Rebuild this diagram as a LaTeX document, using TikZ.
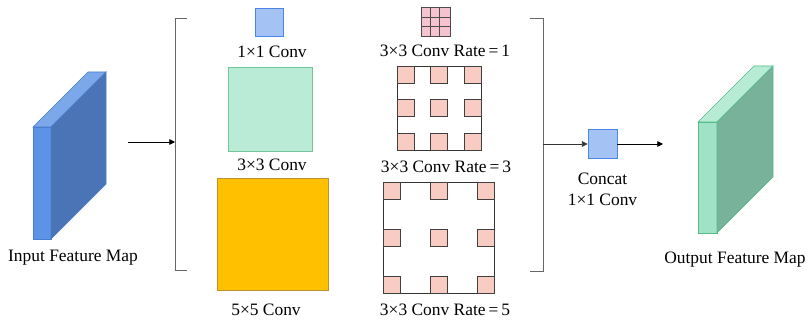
\documentclass[tikz,border=0pt]{standalone}
\usepackage{fontspec}
\setmainfont{Liberation Serif}
\usetikzlibrary{positioning,arrows.meta}
\definecolor{blueFront}{HTML}{5B93E6}
\definecolor{blueSide}{HTML}{4A74B6}
\definecolor{blueTop}{HTML}{7CA8EA}
\definecolor{blueLine}{HTML}{4A7CD0}
\definecolor{greenFront}{HTML}{A0E2C5}
\definecolor{greenSide}{HTML}{78B29A}
\definecolor{greenTop}{HTML}{B8EBD5}
\definecolor{greenLine}{HTML}{52BE88}
\definecolor{oneFill}{HTML}{A4C2F4}
\definecolor{oneLine}{HTML}{4A86E8}
\definecolor{convGreen}{HTML}{BAEBD6}
\definecolor{convGreenLine}{HTML}{72C49A}
\definecolor{convOrange}{HTML}{FFC000}
\definecolor{convOrangeLine}{HTML}{BF9030}
\definecolor{gridPink}{HTML}{F5C3CF}
\definecolor{dotPink}{HTML}{F8CBC3}
\tikzset{
    lbl/.style={font=\fontsize{12.4}{14.5}\selectfont, inner sep=0pt},
    convbox/.style={draw, minimum size=#1, inner sep=0pt, line width=0.6pt},
    dot/.style={draw=black!75, fill=dotPink, minimum size=0.425cm, inner sep=0pt, line width=0.6pt},
    bracket/.style={draw=black!60, line width=0.6pt},
    flow/.style={-{Triangle[length=4pt,width=4pt]}, line width=0.5pt},
}

\begin{document}
\begin{tikzpicture}
\useasboundingbox (0,0) rectangle (20.2,8.05);
% input feature map
\fill[blueFront, draw=blueLine] (0.825,2.075) rectangle (1.275,4.875);
\fill[blueTop, draw=blueLine] (0.825,4.875)--(1.275,4.875)--(2.65,6.25)--(2.2,6.25)--cycle;
\fill[blueSide, draw=blueLine] (1.275,2.075)--(1.275,4.875)--(2.65,6.25)--(2.65,3.45)--cycle;
\node[lbl] (in lbl) at (1.825,1.6) {Input Feature Map};
\coordinate (in out) at (3.2,4.5);

% left bracket
\coordinate (lb top) at (4.675,7.6);
\coordinate (lb bot) at (4.675,1.3);
\coordinate (lb mid) at (4.375,4.5);
\draw[bracket] (lb top) -- ++(-0.3,0) |- (lb bot);
\draw[flow] (in out) -- (lb mid);

% plain convolutions
\node[convbox=0.7cm, fill=oneFill, draw=oneLine] (one) at (6.725,7.5) {};
\node[lbl] (one lbl) at (6.8,6.75) {1×1 Conv};
\node[convbox=2.1cm, fill=convGreen, draw=convGreenLine] (three) at (6.75,5.325) {};
\node[lbl] (three lbl) at (6.8,3.925) {3×3 Conv};
\node[convbox=2.79cm, fill=convOrange, draw=convOrangeLine] (five) at (6.825,2.1875) {};
\node[lbl] (five lbl) at (6.65,0.3) {5×5 Conv};

% atrous convolutions
\node[convbox=0.725cm, fill=gridPink, draw=black!70] (rate1) at (10.8875,7.5125) {};
\foreach \k in {1,2} {
    \draw[black!70, line width=0.6pt] ([xshift=\k*0.2417cm]rate1.south west) -- ([xshift=\k*0.2417cm]rate1.north west);
    \draw[black!70, line width=0.6pt] ([yshift=\k*0.2417cm]rate1.south west) -- ([yshift=\k*0.2417cm]rate1.south east);
}
\node[lbl] (rate1 lbl) at (11.125,6.775) {3×3 Conv Rate\,=\,1};

\node[convbox=2.1cm, draw=black!80] (rate3) at (10.975,5.35) {};
\foreach \i in {-1,0,1}
    \foreach \j in {-1,0,1}
        \node[dot] at ([shift={(\i*0.8375,\j*0.8375)}]rate3.center) {};
\node[lbl] (rate3 lbl) at (11.15,3.875) {3×3 Conv Rate\,=\,3};

\node[convbox=2.775cm, draw=black!80] (rate5) at (10.9625,2.1125) {};
\foreach \i in {-1,0,1}
    \foreach \j in {-1,0,1}
        \node[dot] at ([shift={(\i*1.175,\j*1.175)}]rate5.center) {};
\node[lbl] (rate5 lbl) at (11.125,0.3) {3×3 Conv Rate\,=\,5};

% right bracket
\coordinate (rb top) at (13.25,7.6);
\coordinate (rb bot) at (13.25,1.275);
\coordinate (rb mid) at (13.575,4.45);
\draw[bracket] (rb top) -- ++(0.325,0) |- (rb bot);

% concat
\node[convbox=0.725cm, fill=oneFill, draw=oneLine] (concat) at (15.0625,4.45) {};
\node[lbl, align=center, below=0.35cm of concat] (concat lbl) {Concat\\1×1 Conv};
\coordinate (out in) at (16.575,4.45);
\draw[flow, black!80] (rb mid) -- (concat);
\draw[flow] (concat) -- (out in);

% output feature map
\fill[greenFront, draw=greenLine] (17.45,2.225) rectangle (17.925,5.0);
\fill[greenTop, draw=greenLine] (17.45,5.0)--(17.925,5.0)--(19.325,6.4)--(18.85,6.4)--cycle;
\fill[greenSide, draw=greenLine] (17.925,2.225)--(17.925,5.0)--(19.325,6.4)--(19.325,3.625)--cycle;
\node[lbl] (out lbl) at (18.375,1.55) {Output Feature Map};
\end{tikzpicture}
\end{document}
